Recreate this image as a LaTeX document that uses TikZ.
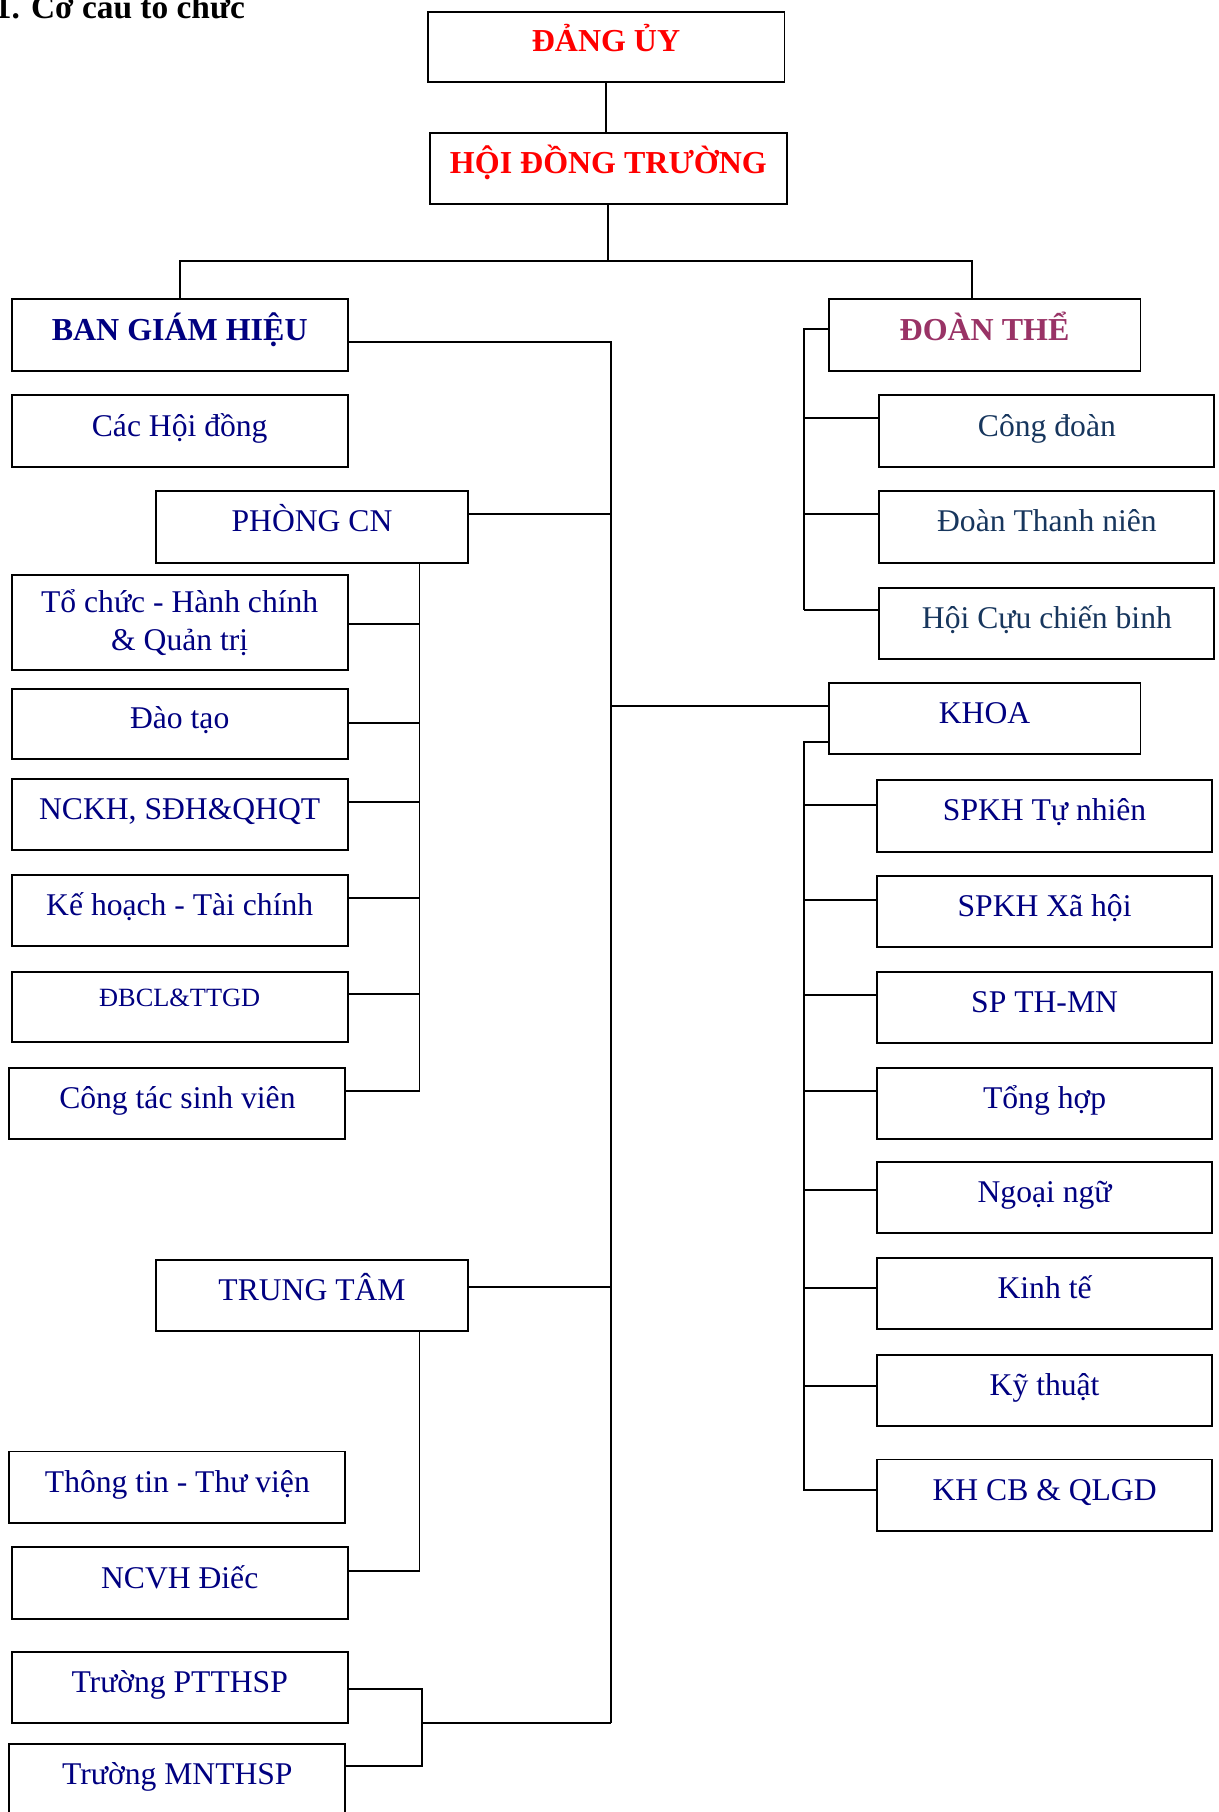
\documentclass[tikz,border=0pt]{standalone}
\usepackage{fontspec}
\setmainfont{Liberation Serif}
\definecolor{NavyText}{RGB}{0,0,128}
\definecolor{UnionBlue}{RGB}{23,54,93}
\definecolor{MassOrg}{RGB}{153,51,102}
\definecolor{RedTitle}{RGB}{255,0,0}
\begin{document}
\begin{tikzpicture}[x=0.02cm,y=-0.02cm,line width=1.1pt,
  flatbox/.style n args={2}{draw,minimum width=#1,minimum height=#2,inner sep=0pt},
  orgbox/.style n args={2}{flatbox={#1}{#2},text height=14pt,text depth=8.3pt},
  lft/.style={font=\fontsize{18}{21.6}\selectfont,text=NavyText},
  rgt/.style={font=\fontsize{18}{21}\selectfont,text=NavyText},
  hdtxt/.style={font=\bfseries\fontsize{18.2}{21}\selectfont}]
\useasboundingbox (0,0) rectangle (1219,1812);
% heading
\node[anchor=base west,inner sep=0pt,font=\bfseries\fontsize{19}{22}\selectfont] (title) at (-6,18.5) {1. Cơ cấu tổ chức};

% top
\node[orgbox={7.14cm}{1.41cm},hdtxt,text=RedTitle] (dangUy) at (606,46.8) {ĐẢNG ỦY};
\node[orgbox={7.14cm}{1.43cm},hdtxt,text=RedTitle] (hdTruong) at (608.4,168.7) {HỘI ĐỒNG TRƯỜNG};

% left column
\node[orgbox={6.72cm}{1.43cm},hdtxt,text=NavyText] (bgh) at (179.7,335.1) {BAN GIÁM HIỆU};
\node[orgbox={6.72cm}{1.43cm},lft] (hoiDong) at (179.7,431) {Các Hội đồng};
\node[orgbox={6.24cm}{1.43cm},lft] (phongCN) at (312,526.9) {PHÒNG CN};
\node[flatbox={6.72cm}{1.9cm},lft,align=center] (tcHC) at (179.7,622.8) {Tổ chức - Hành chính\\ \& Quản trị};
\node[orgbox={6.72cm}{1.41cm},lft] (daoTao) at (179.7,723.9) {Đào tạo};
\node[orgbox={6.72cm}{1.43cm},lft] (nckh) at (179.7,814.6) {NCKH, SĐH\&QHQT};
\node[orgbox={6.72cm}{1.43cm},lft] (khtc) at (179.7,910.6) {Kế hoạch - Tài chính};
\node[orgbox={6.72cm}{1.41cm},lft,font=\fontsize{15}{18}\selectfont,text depth=14.9pt] (dbcl) at (179.7,1007) {ĐBCL\&TTGD};
\node[orgbox={6.72cm}{1.43cm},lft] (ctsv) at (177.4,1103.5) {Công tác sinh viên};
\node[orgbox={6.24cm}{1.43cm},lft] (trungTam) at (312,1295.3) {TRUNG TÂM};
\node[orgbox={6.72cm}{1.43cm},lft] (ttTV) at (177.4,1487.2) {Thông tin - Thư viện};
\node[orgbox={6.72cm}{1.43cm},lft] (ncvh) at (179.7,1583) {NCVH Điếc};
\node[orgbox={6.72cm}{1.41cm},lft] (ptthsp) at (179.7,1687.6) {Trường PTTHSP};
\node[orgbox={6.72cm}{1.43cm},lft] (mnthsp) at (177.4,1779.5) {Trường MNTHSP};

% right column
\node[orgbox={6.24cm}{1.43cm},hdtxt,text=MassOrg] (doanThe) at (984.5,335.1) {ĐOÀN THỂ};
\foreach \n/\y/\t in {congDoan/431/Công đoàn, doanTN/526.9/Đoàn Thanh niên, ccb/623.4/Hội Cựu chiến binh}
  \node[orgbox={6.7cm}{1.43cm},rgt,text=UnionBlue] (\n) at (1046.9,\y) {\t};
\node[orgbox={6.24cm}{1.43cm},lft] (khoa) at (984.5,718.7) {KHOA};
\foreach \n/\y/\t in {tuNhien/815.8/SPKH Tự nhiên, xaHoi/911.7/SPKH Xã hội, thmn/1007.6/SP TH-MN,
  tongHop/1103.5/Tổng hợp, ngoaiNgu/1197.7/Ngoại ngữ, kinhTe/1293.6/Kinh tế,
  kyThuat/1390.6/Kỹ thuật, khcb/1495.2/KH CB \& QLGD}
  \node[orgbox={6.7cm}{1.43cm},rgt] (\n) at (1044.6,\y) {\t};

% connectors, top
\coordinate (barR) at (971.8,261.1);
\draw (dangUy.south) -- (dangUy.south |- hdTruong.north);
\draw (hdTruong.south) -- (hdTruong.south |- barR);
\draw (bgh.north) |- (barR) -- (barR |- doanThe.north);

% main spine
\coordinate (spine) at (611.3,0);
\draw (bgh.east |- 0,342.3) -| (spine |- 0,1722.8);
\foreach \n/\y in {phongCN/514.2,trungTam/1287.4}
  \draw (\n.east |- 0,\y) -- (spine |- 0,\y);
\draw (spine |- 0,705.8) -- (khoa.west |- 0,705.8);

% phong CN
\coordinate (cnSpine) at (419.5,0);
\draw (cnSpine |- phongCN.south) -- (cnSpine |- 0,1090.8);
\foreach \n/\y in {tcHC/624,daoTao/723.3,nckh/801.9,khtc/897.8,dbcl/993.7,ctsv/1090.8}
  \draw (\n.east |- 0,\y) -- (cnSpine |- 0,\y);

% trung tam, truong
\draw (cnSpine |- trungTam.south) |- (ncvh.east |- 0,1571);
\coordinate (ptSpine) at (421.8,0);
\draw (ptthsp.east |- 0,1689) -| (ptSpine |- 0,1765.6) -- (mnthsp.east |- 0,1765.6);
\draw (ptSpine |- 0,1722.8) -- (spine |- 0,1722.8);

% doan the
\coordinate (dtSpine) at (804.2,0);
\draw (doanThe.west |- 0,328.7) -| (dtSpine |- 0,610);
\foreach \n/\y in {congDoan/418.1,doanTN/514,ccb/610}
  \draw (dtSpine |- 0,\y) -- (\n.west |- 0,\y);

% khoa
\draw (khoa.west |- 0,741.6) -| (dtSpine |- 0,1490.6);
\foreach \n/\y in {tuNhien/805.1,xaHoi/900.2,thmn/995.4,tongHop/1091.3,ngoaiNgu/1189.9,kinhTe/1287.9,kyThuat/1386.2,khcb/1490.2}
  \draw (dtSpine |- 0,\y) -- (\n.west |- 0,\y);
\end{tikzpicture}
\end{document}
